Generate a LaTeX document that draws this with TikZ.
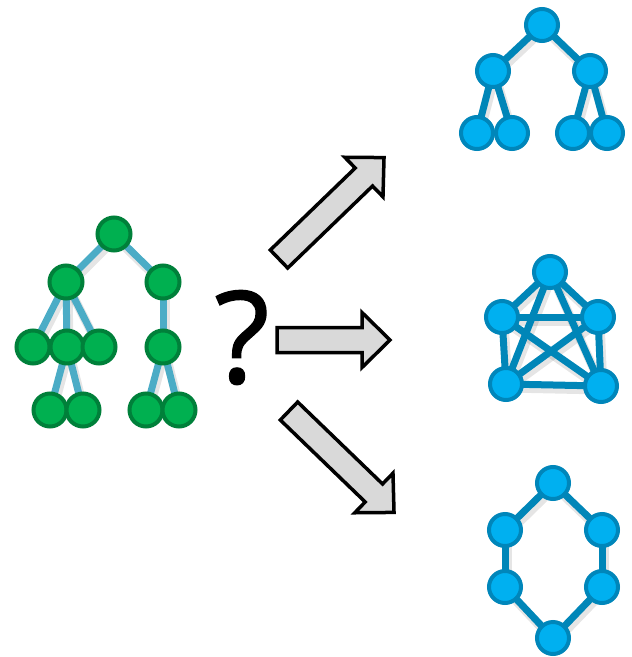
\documentclass[tikz,border=0pt]{standalone}
\usepackage{fontspec}
\newfontfamily\qfont{Open Sans}[FakeBold=1]
\definecolor{gfill}{HTML}{00B050}
\definecolor{gborder}{HTML}{00803A}
\definecolor{gline}{HTML}{4BACC6}
\definecolor{bfill}{HTML}{00B0F0}
\definecolor{bborder}{HTML}{0086BA}
\definecolor{bline}{HTML}{0086B8}
\definecolor{arrowgray}{HTML}{D9D9D9}
\pgfdeclarelayer{edges}
\pgfdeclarelayer{shadows}
\pgfsetlayers{shadows,edges,main}
\newcommand\fatarrowat[3]{%
  \draw[fatarrow, shift={(#1)}, rotate=#2]
    (0,-12.5) -- (#3-28,-12.5) -- (#3-28,-27.5) -- (#3,0)
    -- (#3-28,27.5) -- (#3-28,12.5) -- (0,12.5) -- cycle;}
\begin{document}
\begin{tikzpicture}[x=1pt,y=-1pt,
  gnode/.style={circle,draw=gborder,fill=gfill,line width=4pt,minimum size=33pt,inner sep=0pt},
  bnode/.style={circle,draw=bborder,fill=bfill,line width=4pt,minimum size=32pt,inner sep=0pt},
  gedge/.style={draw=gline,line width=7pt},
  bedge/.style={draw=bline,line width=7pt},
  shadowedge/.style={draw=black,opacity=0.10,line width=9pt,transform canvas={shift={(2pt,-4pt)}}},
  fatarrow/.style={draw=black,fill=arrowgray,line width=3.5pt,line join=miter}]
\useasboundingbox (0,0) rectangle (632,657);

% ---- green tree (left)
\node[gnode] (g0) at (114,234) {};
\node[gnode] (g1) at (66,282) {};
\node[gnode] (g2) at (163,282) {};
\node[gnode] (g3) at (33,347) {};
\node[gnode] (g4) at (67,347) {};
\node[gnode] (g5) at (99,347) {};
\node[gnode] (g6) at (163,347) {};
\node[gnode] (g7) at (50,410) {};
\node[gnode] (g8) at (83,410) {};
\node[gnode] (g9) at (146,410) {};
\node[gnode] (g10) at (179,410) {};
\begin{pgfonlayer}{shadows}
\foreach \a/\b in {g0/g1,g0/g2,g1/g3,g1/g4,g1/g5,g2/g6,g4/g7,g4/g8,g6/g9,g6/g10}
  \draw[shadowedge] (\a.center) -- (\b.center);
\end{pgfonlayer}
\begin{pgfonlayer}{edges}
\foreach \a/\b in {g0/g1,g0/g2,g1/g3,g1/g4,g1/g5,g2/g6,g4/g7,g4/g8,g6/g9,g6/g10}
  \draw[gedge] (\a.center) -- (\b.center);
\end{pgfonlayer}

% ---- blue tree (top right)
\node[bnode] (t0) at (542,25) {};
\node[bnode] (t1) at (493,71) {};
\node[bnode] (t2) at (590,71) {};
\node[bnode] (t3) at (477,133) {};
\node[bnode] (t4) at (512,133) {};
\node[bnode] (t5) at (573,133) {};
\node[bnode] (t6) at (607,133) {};

% ---- complete graph K5 (middle right)
\node[bnode] (k1) at (550,272) {};
\node[bnode] (k2) at (502,317) {};
\node[bnode] (k3) at (598,317) {};
\node[bnode] (k4) at (506,384) {};
\node[bnode] (k5) at (601,386) {};

% ---- cycle (bottom right)
\node[bnode] (h1) at (553,483) {};
\node[bnode] (h2) at (505,530) {};
\node[bnode] (h3) at (602,530) {};
\node[bnode] (h4) at (505,587) {};
\node[bnode] (h5) at (602,587) {};
\node[bnode] (h6) at (553,638) {};

\begin{pgfonlayer}{shadows}
\foreach \a/\b in {t0/t1,t0/t2,t1/t3,t1/t4,t2/t5,t2/t6,
  k1/k2,k1/k3,k2/k3,k2/k4,k3/k5,k4/k5,k1/k4,k1/k5,k2/k5,k3/k4,
  h1/h2,h1/h3,h2/h4,h3/h5,h4/h6,h5/h6}
  \draw[shadowedge] (\a.center) -- (\b.center);
\end{pgfonlayer}
\begin{pgfonlayer}{edges}
\foreach \a/\b in {t0/t1,t0/t2,t1/t3,t1/t4,t2/t5,t2/t6,
  k1/k2,k1/k3,k2/k3,k2/k4,k3/k5,k4/k5,k1/k4,k1/k5,k2/k5,k3/k4,
  h1/h2,h1/h3,h2/h4,h3/h5,h4/h6,h5/h6}
  \draw[bedge] (\a.center) -- (\b.center);
\end{pgfonlayer}

% ---- question mark
\node[anchor=base,inner sep=0pt,font=\qfont\fontsize{128}{128}\selectfont] (q) at (242,383) {?};

% ---- arrows
\fatarrowat{279,259}{44}{146}
\fatarrowat{277,340}{0}{113}
\fatarrowat{289,411}{-44}{146}
\end{tikzpicture}
\end{document}
